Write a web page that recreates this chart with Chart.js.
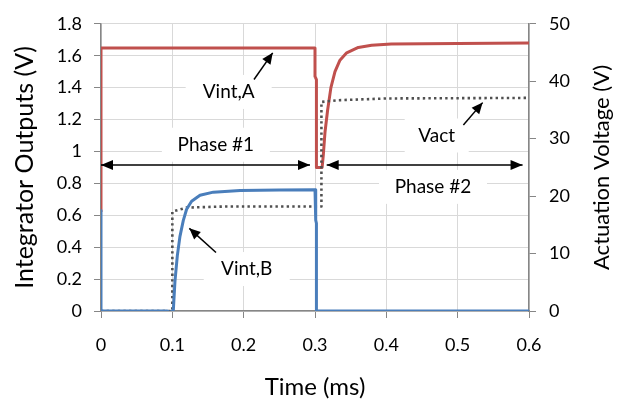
<!DOCTYPE html>
<html>
<head>
<meta charset="utf-8">
<script src="https://cdn.jsdelivr.net/npm/chart.js@4.4.1/dist/chart.umd.min.js"></script>
<style>
  html, body { margin: 0; padding: 0; background: #fff; }
  #wrap { width: 633px; height: 407px; }
</style>
</head>
<body>
<div id="wrap"><canvas id="chart-canvas"></canvas></div>
<script>
// series (time in ms)
const timeA = [0, 0, 0.3, 0.3, 0.302, 0.302, 0.31, 0.3117, 0.314, 0.3177, 0.3223, 0.328, 0.335, 0.3444, 0.3607, 0.3794, 0.407, 0.5, 0.6];
const vintA = [0.62, 1.648, 1.648, 1.47, 1.45, 0.9, 0.9, 0.98, 1.12, 1.26, 1.40, 1.50, 1.572, 1.618, 1.652, 1.666, 1.674, 1.677, 1.68];

const timeB = [0, 0, 0.093, 0.097, 0.1, 0.1014, 0.1037, 0.107, 0.1107, 0.1154, 0.12, 0.127, 0.1388, 0.1575, 0.195, 0.25, 0.3, 0.301, 0.301, 0.302, 0.302, 0.6];
const vintB = [0.63, 0, 0, -0.01, 0, 0.006, 0.187, 0.347, 0.468, 0.568, 0.638, 0.688, 0.725, 0.745, 0.755, 0.758, 0.76, 0.76, 0.57, 0.55, 0, 0];

const timeAct = [0, 0.1, 0.1, 0.12, 0.176, 0.309, 0.309, 0.333, 0.356, 0.4, 0.6];
const vact = [0, 0, 17.3, 18.0, 18.2, 18.2, 36.4, 36.7, 36.8, 37.0, 37.1];

const xTicks = [0, 0.1, 0.2, 0.3, 0.4, 0.5, 0.6];
const leftTicks = [0, 0.2, 0.4, 0.6, 0.8, 1, 1.2, 1.4, 1.6, 1.8];
const rightTicks = [0, 10, 20, 30, 40, 50];

const labelA = 'Vint,A', labelB = 'Vint,B', labelAct = 'Vact';
const phase1 = 'Phase #1', phase2 = 'Phase #2';
const rightTitle = 'Actuation Voltage (V)';

function pts(xs, ys) { return xs.map((x, i) => ({x: x, y: ys[i]})); }

const FONT = 'Lato';
const axisGrey = '#868686';
const gridGrey = '#d9d9d9';

// annotation texts and arrows, in left-axis data coordinates
const notes = [
  {text: labelA, x: 0.179, y: 1.373, w: 86},
  {text: phase1, x: 0.161, y: 1.042, w: 108},
  {text: phase2, x: 0.4654, y: 0.778, w: 108},
  {text: labelAct, x: 0.4706, y: 1.10, w: 64},
  {text: labelB, x: 0.2043, y: 0.263, w: 86}
];
const arrows = [
  {from: [0.2145, 1.451], to: [0.2407, 1.618], both: false},
  {from: [0.508, 1.166], to: [0.535, 1.306], both: false},
  {from: [0.1612, 0.367], to: [0.1238, 0.518], both: false},
  {from: [0.0, 0.915], to: [0.293, 0.915], both: true},
  {from: [0.3164, 0.915], to: [0.591, 0.915], both: true}
];

function head(ctx, x1, y1, x2, y2, len, half) {
  const a = Math.atan2(y2 - y1, x2 - x1);
  ctx.beginPath();
  ctx.moveTo(x2, y2);
  ctx.lineTo(x2 - len * Math.cos(a) + half * Math.sin(a), y2 - len * Math.sin(a) - half * Math.cos(a));
  ctx.lineTo(x2 - len * Math.cos(a) - half * Math.sin(a), y2 - len * Math.sin(a) + half * Math.cos(a));
  ctx.closePath();
  ctx.fill();
}

const annotate = {
  id: 'annotate',
  afterDatasetsDraw(chart) {
    const ctx = chart.ctx, xs = chart.scales.x, ys = chart.scales.y;
    ctx.save();
    ctx.font = '19px ' + FONT;
    ctx.textAlign = 'center';
    ctx.textBaseline = 'middle';
    notes.forEach(n => {
      const px = xs.getPixelForValue(n.x), py = ys.getPixelForValue(n.y);
      ctx.fillStyle = '#fff';
      ctx.fillRect(px - n.w / 2, py - 17, n.w, 34);
      ctx.fillStyle = '#000';
      ctx.fillText(n.text, px, py);
    });
    ctx.strokeStyle = '#000';
    ctx.fillStyle = '#000';
    ctx.lineWidth = 1.5;
    arrows.forEach(a => {
      const x1 = xs.getPixelForValue(a.from[0]), y1 = ys.getPixelForValue(a.from[1]);
      const x2 = xs.getPixelForValue(a.to[0]), y2 = ys.getPixelForValue(a.to[1]);
      const len = a.both ? 12 : 11, half = 5;
      ctx.beginPath();
      ctx.moveTo(x1, y1);
      ctx.lineTo(x2, y2);
      ctx.stroke();
      head(ctx, x1, y1, x2, y2, len, half);
      if (a.both) head(ctx, x2, y2, x1, y1, len, half);
    });
    ctx.restore();
  },
  afterDraw(chart) {
    // right title reads bottom to top, as in the picture
    const ctx = chart.ctx, area = chart.chartArea;
    ctx.save();
    ctx.font = '22px ' + FONT;
    ctx.fillStyle = '#000';
    ctx.textAlign = 'center';
    ctx.textBaseline = 'middle';
    ctx.translate(602, (area.top + area.bottom) / 2);
    ctx.rotate(-Math.PI / 2);
    ctx.fillText(rightTitle, 0, 0);
    ctx.restore();
  }
};

document.addEventListener('DOMContentLoaded', function() {
  Chart.defaults.font.family = FONT;
  Chart.defaults.color = '#000';
  const ctx = document.getElementById('chart-canvas');
  new Chart(ctx, {
    type: 'line',
    data: {
      datasets: [
        {
          label: labelAct,
          data: pts(timeAct, vact),
          yAxisID: 'y1',
          borderColor: '#505050',
          borderWidth: 2.6,
          borderDash: [2.4, 3.2],
          pointRadius: 0,
          order: 1
        },
        {
          label: labelB,
          data: pts(timeB, vintB),
          yAxisID: 'y',
          borderColor: '#4a7ebb',
          borderWidth: 3,
          pointRadius: 0,
          order: 0
        },
        {
          label: labelA,
          data: pts(timeA, vintA),
          yAxisID: 'y',
          borderColor: '#c0504d',
          borderWidth: 3,
          pointRadius: 0,
          order: 2
        }
      ]
    },
    options: {
      responsive: true,
      maintainAspectRatio: false,
      animation: false,
      layout: { padding: { top: 12, left: 0, right: 0, bottom: 0 } },
      plugins: {
        legend: { display: false },
        tooltip: { enabled: false }
      },
      elements: { line: { tension: 0, borderCapStyle: 'butt', borderJoinStyle: 'round' } },
      scales: {
        x: {
          type: 'linear',
          min: 0, max: 0.6,
          afterBuildTicks: s => { s.ticks = xTicks.map(v => ({value: v})); },
          afterFit: s => { s.height = 96; },
          grid: { color: gridGrey, tickColor: axisGrey, tickLength: 7 },
          border: { color: axisGrey, width: 1.5 },
          ticks: { font: { size: 18 }, padding: 16, callback: v => String(v) },
          title: { display: true, text: 'Time (ms)', font: { size: 24 }, padding: { top: 0, bottom: 5 } }
        },
        y: {
          position: 'left',
          min: 0, max: 1.8,
          afterBuildTicks: s => { s.ticks = leftTicks.map(v => ({value: v})); },
          afterFit: s => { s.width = 101; },
          grid: { color: gridGrey, tickColor: axisGrey, tickLength: 7 },
          border: { color: axisGrey, width: 1.5 },
          ticks: { font: { size: 18 }, padding: 12, callback: v => String(v) },
          title: { display: true, text: 'Integrator Outputs (V)', font: { size: 25 }, padding: { top: 10, bottom: 0 } }
        },
        y1: {
          position: 'right',
          min: 0, max: 50,
          afterBuildTicks: s => { s.ticks = rightTicks.map(v => ({value: v})); },
          afterFit: s => { s.width = 104; },
          grid: { drawOnChartArea: false, tickColor: axisGrey, tickLength: 7 },
          border: { color: axisGrey, width: 1.5 },
          ticks: { font: { size: 18 }, padding: 13, callback: v => String(v) }
        }
      }
    },
    plugins: [annotate]
  });
});
</script>
</body>
</html>
